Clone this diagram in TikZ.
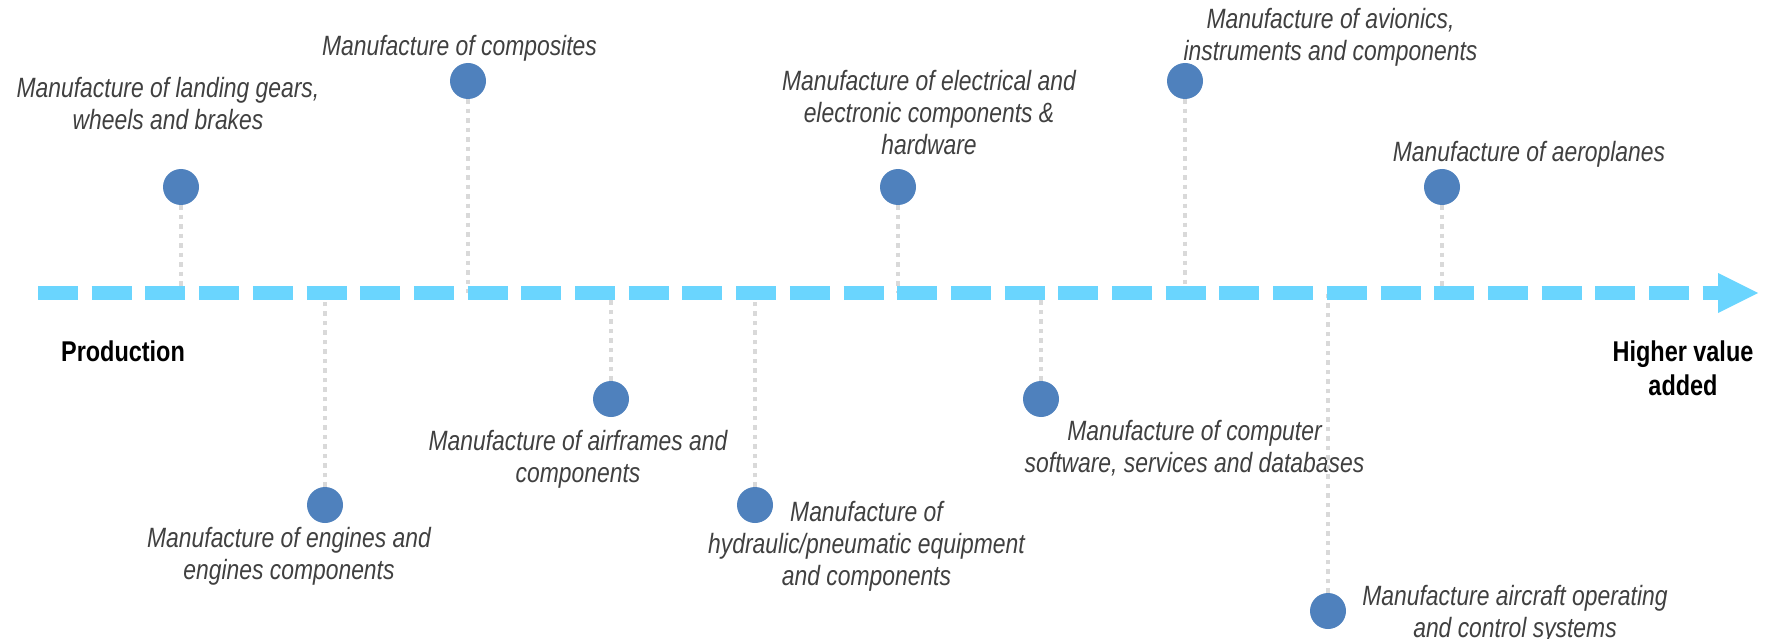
\documentclass[tikz,border=0pt]{standalone}
\usepackage{fontspec}
\setmainfont{Liberation Sans}[FakeStretch=0.82]
\usetikzlibrary{calc}
\definecolor{dotblue}{HTML}{4F81BD}
\definecolor{axisblue}{HTML}{6AD5FE}
\definecolor{conngray}{HTML}{D9D9D9}
\definecolor{txtgray}{HTML}{404040}
\begin{document}
\begin{tikzpicture}[x=1pt,y=-1pt,
  dotnode/.style={circle,fill=dotblue,minimum size=36pt,inner sep=0pt},
  conn/.style={conngray,line width=4.7pt,dash pattern=on 4.7pt off 4.8pt},
  lbl/.style={text=txtgray,font=\fontsize{27.9}{32}\selectfont\itshape,align=center,inner sep=0pt},
  endlbl/.style={text=black,font=\fontsize{28.6}{34}\selectfont\bfseries,align=center,inner sep=0pt}]
\useasboundingbox (0,0) rectangle (1771,639);
% axis
\coordinate (start) at (38,293);
\coordinate (headbase) at (1718,293);
\coordinate (tip) at (1758,293);
% dots
\node[dotnode] (d1) at (181,187) {};
\node[dotnode] (d2) at (468,81) {};
\node[dotnode] (d3) at (898,187) {};
\node[dotnode] (d4) at (1185,81) {};
\node[dotnode] (d5) at (1442,187) {};
\node[dotnode] (d6) at (325,505) {};
\node[dotnode] (d7) at (611,399) {};
\node[dotnode] (d8) at (755,505) {};
\node[dotnode] (d9) at (1041,399) {};
\node[dotnode] (d10) at (1328,611) {};
% axis points
\foreach \i in {1,...,10} {\coordinate (a\i) at (d\i |- start);}
% labels
\node[lbl] (t1) at (168,104) {Manufacture of landing gears,\\wheels and brakes};
\node[lbl] (t2) at (459.5,48) {Manufacture of composites};
\node[lbl] (t3) at (929,113) {Manufacture of electrical and\\electronic components \&\\hardware};
\node[lbl] (t4) at (1330.5,37) {Manufacture of avionics,\\instruments and components};
\node[lbl] (t5) at (1529,154) {Manufacture of aeroplanes};
\node[lbl] (t6) at (289,556) {Manufacture of engines and\\engines components};
\node[lbl] (t7) at (578,459) {Manufacture of airframes and\\components};
\node[lbl] (t8) at (866.5,546.5) {Manufacture of\\hydraulic/pneumatic equipment\\and components};
\node[lbl] (t9) at (1194.5,448.5) {Manufacture of computer\\software, services and databases};
\node[lbl] (t10) at (1515,614.5) {Manufacture aircraft operating\\and control systems};
\node[endlbl] (prod) at (123,351) {Production};
\node[endlbl] (hva) at (1683,368) {Higher value\\added};
% connectors
\foreach \i in {1,...,10} {\draw[conn] (d\i) -- (a\i);}
% arrow
\draw[axisblue,line width=13.3pt,dash pattern=on 40pt off 13.7pt] (start) -- (headbase);
\fill[axisblue] ($(headbase)+(0,-20)$) -- (tip) -- ($(headbase)+(0,20)$) -- cycle;
\end{tikzpicture}
\end{document}
